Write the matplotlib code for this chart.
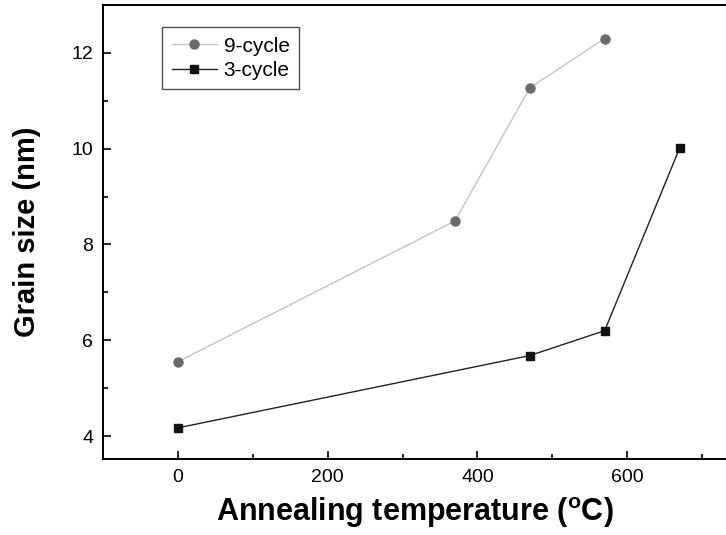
import matplotlib
matplotlib.use('Agg')
import matplotlib.pyplot as plt
from matplotlib.ticker import MultipleLocator

plt.rcParams['font.family'] = ['Liberation Sans', 'DejaVu Sans']
plt.rcParams['mathtext.fontset'] = 'custom'
plt.rcParams['mathtext.rm'] = 'Liberation Sans'
plt.rcParams['mathtext.bf'] = 'Liberation Sans:bold'

# data
temp_9 = [0, 370, 470, 570]
size_9 = [5.55, 8.49, 11.27, 12.30]
temp_3 = [0, 470, 570, 670]
size_3 = [4.17, 5.68, 6.20, 10.01]

fig = plt.figure(figsize=(7.26, 5.35), dpi=100)
ax = fig.add_axes([103 / 726, (535 - 459) / 535, 1 - 103 / 726, (459 - 5) / 535])

ax.plot(temp_9, size_9, color='#c4c4c4', lw=1.0, marker='o', ms=6.5,
        mfc='#6a6a6a', mec='#6a6a6a', label='9-cycle')
ax.plot(temp_3, size_3, color='#222222', lw=1.0, marker='s', ms=6,
        mfc='#111111', mec='#111111', label='3-cycle')

ax.set_xlim(-100, 732)
ax.set_ylim(3.52, 13.0)
ax.xaxis.set_major_locator(MultipleLocator(200))
ax.xaxis.set_minor_locator(MultipleLocator(100))
ax.yaxis.set_major_locator(MultipleLocator(2))
ax.yaxis.set_minor_locator(MultipleLocator(1))
ax.tick_params(which='major', direction='in', length=6, width=1.2, labelsize=14, pad=7)
ax.tick_params(which='minor', direction='in', length=3.5, width=1.2)
ax.spines['right'].set_visible(False)
for s in ['left', 'bottom', 'top']:
    ax.spines[s].set_linewidth(1.4)

ax.set_xlabel(r'Annealing temperature ($^\mathbf{o}$C)', fontsize=22, fontweight='bold', labelpad=7)
ax.set_ylabel('Grain size (nm)', fontsize=21, fontweight='bold', labelpad=22)

leg = ax.legend(loc='upper left', bbox_to_anchor=(0.095, 0.951), borderaxespad=0,
                fontsize=15, frameon=True, fancybox=False, edgecolor='#222222',
                handlelength=2.2, borderpad=0.45, labelspacing=0.25, handletextpad=0.3)
leg.get_frame().set_linewidth(1.0)

fig.savefig('out.png', dpi=100)
